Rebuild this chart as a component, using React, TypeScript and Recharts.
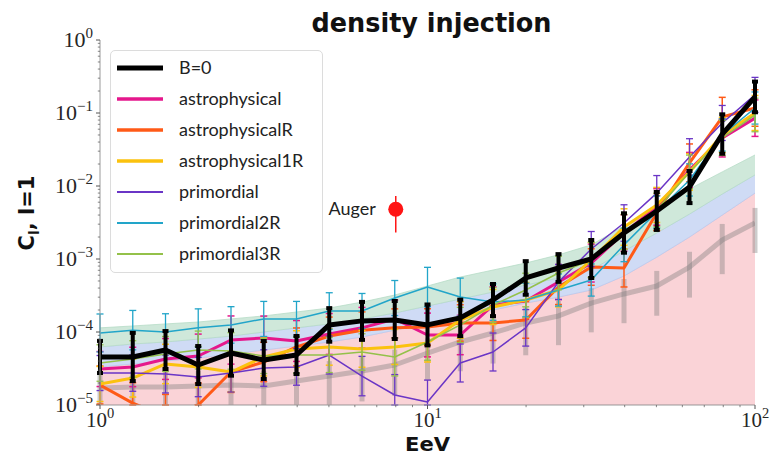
import React from 'react';
import {
  ComposedChart, Line, Area, Scatter, XAxis, YAxis, ErrorBar, Legend, Label,
} from 'recharts';

// ---------- data ----------
const ENERGY = [1, 1.259, 1.585, 1.995, 2.512, 3.162, 3.981, 5.012, 6.31, 7.943, 10, 12.59, 15.85, 19.95, 25.12, 31.62, 39.81, 50.12, 63.1, 79.43, 100];

const B0 = [4.55e-5, 4.55e-5, 5.66e-5, 3.53e-5, 5.15e-5, 4.13e-5, 4.84e-5, 1.25e-4, 1.42e-4, 1.46e-4, 1.25e-4, 1.56e-4, 2.74e-4, 5.5e-4, 7.53e-4, 1.0e-3, 2.27e-3, 4.55e-3, 9.68e-3, 5.15e-2, 0.166];
const B0_ERR = [0.22, 0.33, 0.26, 0.26, 0.31, 0.26, 0.26, 0.23, 0.26, 0.26, 0.28, 0.25, 0.22, 0.23, 0.19, 0.26, 0.27, 0.26, 0.22, 0.27, 0.21];

const ASTRO = [3.11e-5, 3.32e-5, 4.27e-5, 4.69e-5, 7.76e-5, 8.28e-5, 7.53e-5, 9.4e-5, 1.14e-4, 1.51e-4, 9.1e-5, 9.1e-5, 2.34e-4, 2.66e-4, 4.84e-4, 8.8e-4, 2.27e-3, 5.16e-3, 1.66e-2, 4.55e-2, 8.5e-2];
const ASTRO_ERR = [0.24, 0.27, 0.28, 0.3, 0.33, 0.3, 0.28, 0.28, 0.28, 0.26, 0.3, 0.27, 0.25, 0.25, 0.24, 0.26, 0.25, 0.25, 0.24, 0.26, 0.25];

const ASTRO_R = [1.88e-5, 1.06e-5, 7e-6, 1.0e-5, 2.83e-5, 3.88e-5, 6.24e-5, 8.8e-5, 1.06e-4, 1.14e-4, 1.17e-4, 1.33e-4, 1.33e-4, 1.46e-4, 4.13e-4, 7.76e-4, 7.53e-4, 4.27e-3, 2.07e-2, 8.8e-2, 0.117];
const ASTRO_R_ERR = [0.26, 0.28, 0.3, 0.3, 0.28, 0.27, 0.26, 0.26, 0.25, 0.26, 0.25, 0.25, 0.24, 0.25, 0.24, 0.25, 0.26, 0.24, 0.26, 0.27, 0.25];

const ASTRO_1R = [1.94e-5, 2.34e-5, 3.65e-5, 3.32e-5, 2.83e-5, 4.55e-5, 5.85e-5, 6.24e-5, 5.85e-5, 6.24e-5, 7.06e-5, 1.46e-4, 2.2e-4, 2.74e-4, 3.76e-4, 9.7e-4, 2.74e-3, 5.5e-3, 1.56e-2, 5.0e-2, 0.1];
const ASTRO_1R_ERR = [0.24, 0.26, 0.27, 0.28, 0.27, 0.26, 0.25, 0.25, 0.25, 0.24, 0.26, 0.25, 0.24, 0.24, 0.23, 0.24, 0.25, 0.24, 0.25, 0.24, 0.24];

const PRIM = [2.74e-5, 2.74e-5, 2.66e-5, 2.42e-5, 2.74e-5, 3.21e-5, 3.32e-5, 4.84e-5, 2.49e-5, 1.37e-5, 1.1e-5, 3.76e-5, 5.32e-5, 1.14e-4, 4.84e-4, 1.37e-3, 3.11e-3, 8.0e-3, 2.5e-2, 7.3e-2, 0.177];
const PRIM_ERR = [0.24, 0.25, 0.26, 0.27, 0.26, 0.25, 0.25, 0.26, 0.27, 0.28, 0.3, 0.26, 0.26, 0.25, 0.24, 0.24, 0.25, 0.24, 0.25, 0.24, 0.24];

const PRIM_2R = [9.7e-5, 1.06e-4, 1.0e-4, 1.14e-4, 1.25e-4, 1.51e-4, 1.51e-4, 1.94e-4, 1.94e-4, 2.92e-4, 4.13e-4, 3.01e-4, 2.57e-4, 2.74e-4, 3.76e-4, 5.15e-4, 1.56e-3, 4.4e-3, 1.21e-2, 5.0e-2, 0.117];
const PRIM_2R_ERR = [0.26, 0.27, 0.25, 0.26, 0.25, 0.24, 0.24, 0.25, 0.24, 0.24, 0.27, 0.26, 0.25, 0.23, 0.22, 0.22, 0.23, 0.22, 0.22, 0.22, 0.22];

const PRIM_3R = [3.76e-5, 4.27e-5, 5.0e-5, 5.66e-5, 5.5e-5, 4.69e-5, 4.84e-5, 4.84e-5, 5.32e-5, 4.55e-5, 7.3e-5, 1.25e-4, 2.34e-4, 3.76e-4, 6.43e-4, 9.7e-4, 2.34e-3, 4.69e-3, 1.56e-2, 4.55e-2, 9.4e-2];
const PRIM_3R_ERR = [0.25, 0.25, 0.24, 0.26, 0.25, 0.24, 0.25, 0.24, 0.25, 0.26, 0.25, 0.24, 0.24, 0.23, 0.23, 0.24, 0.24, 0.23, 0.23, 0.24, 0.23];

// isotropic expectation (grey) and its spread bands
const ISO = [1.71e-5, 1.77e-5, 1.77e-5, 1.82e-5, 1.88e-5, 1.82e-5, 2.13e-5, 2.49e-5, 2.92e-5, 3.53e-5, 5.15e-5, 7.3e-5, 9.7e-5, 1.33e-4, 1.66e-4, 2.49e-4, 3.32e-4, 4.27e-4, 7.76e-4, 1.82e-3, 3.11e-3];
const ISO_ERR = [1.1e-5, 1.1e-5, 1.1e-5, 1.1e-5, 1.2e-5, 1.1e-5, 1.3e-5, 1.5e-5, 1.8e-5, 2.2e-5, 3.0e-5, 4.4e-5, 6.0e-5, 8.5e-5, 1.0e-4, 1.5e-4, 2.0e-4, 2.6e-4, 4.8e-4, 1.2e-3, 1.9e-3];
const BAND_P = [3.32e-5, 3.65e-5, 4.0e-5, 4.4e-5, 5.0e-5, 5.66e-5, 6.43e-5, 7.3e-5, 8.55e-5, 1.06e-4, 1.33e-4, 1.6e-4, 2.0e-4, 2.49e-4, 3.01e-4, 3.76e-4, 5.85e-4, 1.06e-3, 2.0e-3, 4.0e-3, 8.0e-3];
const BAND_B = [6.24e-5, 6.85e-5, 7.3e-5, 8.0e-5, 8.8e-5, 1.0e-4, 1.14e-4, 1.29e-4, 1.51e-4, 1.82e-4, 2.27e-4, 2.83e-4, 3.53e-4, 4.4e-4, 5.5e-4, 7.06e-4, 1.29e-3, 2.27e-3, 4.13e-3, 7.76e-3, 1.42e-2];
const BAND_G = [1.14e-4, 1.21e-4, 1.29e-4, 1.37e-4, 1.51e-4, 1.66e-4, 1.88e-4, 2.13e-4, 2.57e-4, 3.21e-4, 4.27e-4, 5.66e-4, 7.06e-4, 8.81e-4, 1.14e-3, 1.56e-3, 2.83e-3, 5.15e-3, 9.1e-3, 1.56e-2, 2.66e-2];

const AUGER = [{ x: 8.0, y: 4.8e-3, err: 2.5e-3, label: 'Auger' }];

const Y_MAJOR = [1e-5, 1e-4, 1e-3, 1e-2, 1e-1, 1];
const X_MAJOR = [1, 10, 100];
const MINOR_MULT = [2, 3, 4, 5, 6, 7, 8, 9];
const Y_MIN = 1e-5;

const TITLE = 'density injection';
const X_LABEL = 'EeV';

// ---------- layout ----------
const W = 773;
const H = 459;
const MARGIN = { top: 40, right: 18, bottom: 0, left: 0 };
const Y_AXIS_W = 100;
const PLOT_W = W - MARGIN.right - Y_AXIS_W;

// ---------- series config ----------
type S = { key: string; name: string; values: number[]; err: number[]; color: string; width: number; legendWidth: number; errWidth: number; cap: number };
const COLORED: S[] = [
  { key: 'astro', name: 'astrophysical', values: ASTRO, err: ASTRO_ERR, color: '#e5178c', width: 3, legendWidth: 3.5, errWidth: 1.5, cap: 3.5 },
  { key: 'astroR', name: 'astrophysicalR', values: ASTRO_R, err: ASTRO_R_ERR, color: '#ff5a17', width: 3, legendWidth: 3.5, errWidth: 1.5, cap: 3.5 },
  { key: 'astro1R', name: 'astrophysical1R', values: ASTRO_1R, err: ASTRO_1R_ERR, color: '#fbc20e', width: 3, legendWidth: 3.5, errWidth: 1.5, cap: 3.5 },
  { key: 'prim', name: 'primordial', values: PRIM, err: PRIM_ERR, color: '#6a35c6', width: 1.5, legendWidth: 1.8, errWidth: 1.3, cap: 3.5 },
  { key: 'prim2R', name: 'primordial2R', values: PRIM_2R, err: PRIM_2R_ERR, color: '#22a5c9', width: 1.5, legendWidth: 1.8, errWidth: 1.3, cap: 3.5 },
  { key: 'prim3R', name: 'primordial3R', values: PRIM_3R, err: PRIM_3R_ERR, color: '#94c14a', width: 1.5, legendWidth: 1.8, errWidth: 1.3, cap: 3.5 },
];
const BLACK: S = { key: 'b0', name: 'B=0', values: B0, err: B0_ERR, color: '#000000', width: 5, legendWidth: 5, errWidth: 4, cap: 3 };
const LEGEND_ITEMS = [BLACK, ...COLORED];

const errRange = (v: number, d: number) => {
  const lo = Math.max(v / Math.pow(10, d), Y_MIN);
  return [v - lo, v * Math.pow(10, d) - v];
};

const rows = ENERGY.map((x, i) => {
  const r: any = {
    x,
    iso: ISO[i],
    isoErr: [Math.min(ISO_ERR[i], ISO[i] - Y_MIN), ISO_ERR[i]],
    bandP: [Y_MIN, BAND_P[i]],
    bandB: [BAND_P[i], BAND_B[i]],
    bandG: [BAND_B[i], BAND_G[i]],
  };
  for (const s of LEGEND_ITEMS) {
    r[s.key] = s.values[i];
    r[s.key + 'Err'] = errRange(s.values[i], s.err[i]);
  }
  return r;
});

const yTicks = [...Y_MAJOR, ...Y_MAJOR.slice(0, -1).flatMap((m) => MINOR_MULT.map((k) => k * m))];
const xTicks = [...X_MAJOR, ...X_MAJOR.slice(0, -1).flatMap((m) => MINOR_MULT.map((k) => k * m))];

const isMajor = (v: number) => {
  const lg = Math.log10(v);
  return Math.abs(lg - Math.round(lg)) < 1e-9;
};
const expText = (v: number) => {
  const e = Math.round(Math.log10(v));
  return e < 0 ? '\u2212' + -e : String(e);
};

const SERIF = "'Liberation Serif', 'DejaVu Serif', serif";
const SANS = "'DejaVu Sans', 'Liberation Sans', sans-serif";

const YTick = (props: any) => {
  const { x, y, payload } = props;
  const v = payload.value;
  const maj = isMajor(v);
  return (
    <g>
      <line x1={x} x2={x - (maj ? 4 : 2.2)} y1={y} y2={y} stroke="#555" strokeWidth={maj ? 1 : 0.7} />
      {maj && (
        <text x={x - 7} y={y + 7} textAnchor="end" fontFamily={SERIF} fontSize={22} fill="#262626">
          10<tspan dy={-9} fontSize={15}>{expText(v)}</tspan>
        </text>
      )}
    </g>
  );
};

const XTick = (props: any) => {
  const { x, y, payload } = props;
  const v = payload.value;
  const maj = isMajor(v);
  return (
    <g>
      <line x1={x} x2={x} y1={y} y2={y + (maj ? 4 : 2.2)} stroke="#555" strokeWidth={maj ? 1 : 0.7} />
      {maj && (
        <text x={x} y={y + 22} textAnchor="middle" fontFamily={SERIF} fontSize={21} fill="#262626">
          10<tspan dy={-9} fontSize={14.5}>{expText(v)}</tspan>
        </text>
      )}
    </g>
  );
};

const LegendBox = () => (
  <div
    style={{
      boxSizing: 'border-box', width: 213, height: 223, border: '1px solid #dcdcdc', borderRadius: 5,
      background: 'rgba(255,255,255,0.85)', paddingTop: 1, fontFamily: "Lato, 'Open Sans', sans-serif",
      fontSize: 18, color: '#222',
    }}
  >
    {LEGEND_ITEMS.map((s) => (
      <div key={s.key} style={{ display: 'flex', alignItems: 'center', height: 31 }}>
        <svg width={46} height={10} style={{ marginLeft: 6, marginRight: 16, flex: 'none' }}>
          <line x1={0} x2={46} y1={5} y2={5} stroke={s.color} strokeWidth={s.legendWidth} />
        </svg>
        <span style={{ lineHeight: '31px', whiteSpace: 'nowrap' }}>{s.name}</span>
      </div>
    ))}
  </div>
);

const AugerShape = (p: any) => (
  <g>
    <circle cx={p.cx} cy={p.cy} r={7.5} fill="#ff1414" />
    <text x={p.cx - 20} y={p.cy + 6} textAnchor="end" fontFamily="Lato, 'Open Sans', sans-serif" fontSize={18} fill="#222">
      {p.payload.label}
    </text>
  </g>
);

export default function App() {
  return (
    <div style={{ position: 'absolute', left: 0, top: 0, width: W, height: H, background: '#fff' }}>
      <ComposedChart width={W} height={H} data={rows} margin={MARGIN}>
        <XAxis
          dataKey="x" type="number" scale="log" domain={[1, 100]} allowDataOverflow ticks={xTicks} interval={0}
          height={54} tickSize={0} tickMargin={0} tickLine={false} tick={<XTick />} axisLine={{ stroke: '#9a9a9a' }}
        >
          <Label
            content={(p: any) => {
              const vb = p.viewBox;
              return (
                <text x={vb.x + vb.width / 2} y={vb.y + 46} textAnchor="middle" fontFamily={SANS} fontWeight="bold" fontSize={19} fill="#111" textLength={45} lengthAdjust="spacingAndGlyphs">
                  {X_LABEL}
                </text>
              );
            }}
          />
        </XAxis>
        <XAxis
          xAxisId="top" orientation="top" dataKey="x" type="number" scale="log" domain={[1, 100]} allowDataOverflow
          height={0} tick={false} tickLine={false} axisLine={{ stroke: '#9a9a9a' }}
        />
        <YAxis
          type="number" scale="log" domain={[1e-5, 1]} allowDataOverflow ticks={yTicks} interval={0}
          width={Y_AXIS_W} tickSize={0} tickMargin={0} tickLine={false} tick={<YTick />} axisLine={{ stroke: '#9a9a9a' }}
        >
          <Label
            content={(p: any) => {
              const vb = p.viewBox;
              const cx = vb.x + 34;
              const cy = vb.y + 173;
              return (
                <text transform={`rotate(-90 ${cx} ${cy})`} x={cx} y={cy} textAnchor="middle" fontFamily={SANS} fontWeight="bold" fontSize={21} fill="#111">
                  C<tspan dy={5} fontSize={14}>l</tspan><tspan dy={-5}>, l=1</tspan>
                </text>
              );
            }}
          />
          <Label
            content={(p: any) => {
              const vb = p.viewBox;
              return (
                <text x={vb.x + Y_AXIS_W + PLOT_W / 2 + 4} y={vb.y - 8} textAnchor="middle" fontFamily={SANS} fontWeight="bold" fontSize={26} fill="#111" textLength={240} lengthAdjust="spacingAndGlyphs">
                  {TITLE}
                </text>
              );
            }}
          />
        </YAxis>
        <YAxis
          yAxisId="right" orientation="right" type="number" scale="log" domain={[1e-5, 1]} allowDataOverflow
          width={0} tick={false} tickLine={false} axisLine={{ stroke: '#9a9a9a' }}
        />

        <Area dataKey="bandP" type="linear" stroke="#f3bcc2" strokeWidth={0.8} fill="#fad3d7" fillOpacity={1} isAnimationActive={false} legendType="none" dot={false} activeDot={false} />
        <Area dataKey="bandB" type="linear" stroke="#b9caf0" strokeWidth={0.8} fill="#cfdbf5" fillOpacity={1} isAnimationActive={false} legendType="none" dot={false} activeDot={false} />
        <Area dataKey="bandG" type="linear" stroke="#b6dcc6" strokeWidth={0.8} fill="#cfe8da" fillOpacity={1} isAnimationActive={false} legendType="none" dot={false} activeDot={false} />

        <Line dataKey="iso" type="linear" stroke="rgba(120,120,120,0.38)" strokeWidth={5} dot={false} activeDot={false} isAnimationActive={false} legendType="none" strokeLinejoin="round">
          <ErrorBar dataKey="isoErr" direction="y" width={0} stroke="rgba(120,120,120,0.38)" strokeWidth={5} />
        </Line>

        {COLORED.map((s) => (
          <Line key={s.key} dataKey={s.key} name={s.name} type="linear" stroke={s.color} strokeWidth={s.width} dot={false} activeDot={false} isAnimationActive={false} strokeLinejoin="round">
            <ErrorBar dataKey={s.key + 'Err'} direction="y" width={s.cap} stroke={s.color} strokeWidth={s.errWidth} />
          </Line>
        ))}

        <Line dataKey={BLACK.key} name={BLACK.name} type="linear" stroke={BLACK.color} strokeWidth={BLACK.width} dot={false} activeDot={false} isAnimationActive={false} strokeLinejoin="round">
          <ErrorBar dataKey={BLACK.key + 'Err'} direction="y" width={BLACK.cap} stroke={BLACK.color} strokeWidth={BLACK.errWidth} />
        </Line>

        <Scatter data={AUGER} dataKey="y" fill="#ff1414" isAnimationActive={false} shape={<AugerShape />} legendType="none">
          <ErrorBar dataKey="err" direction="y" width={0} stroke="#ff1414" strokeWidth={1.5} />
        </Scatter>

        <Legend
          layout="vertical" align="center" verticalAlign="middle"
          wrapperStyle={{ left: 110, top: 50, width: 213, height: 223 }}
          content={() => <LegendBox />}
        />
      </ComposedChart>
    </div>
  );
}
